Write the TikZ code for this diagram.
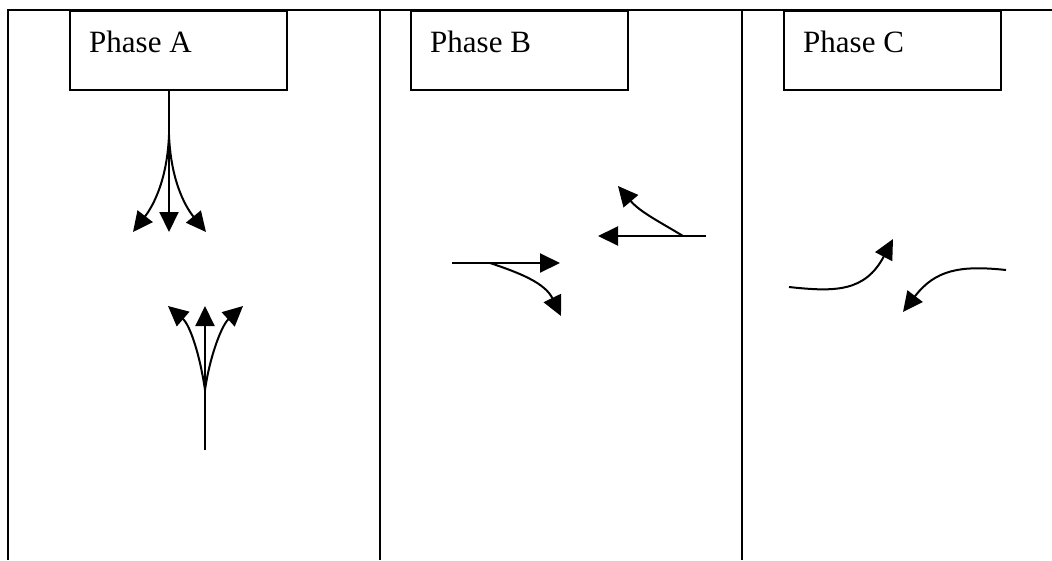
\documentclass[tikz,border=0pt]{standalone}
\usepackage{fontspec}
\setmainfont{Liberation Serif}
\usetikzlibrary{arrows.meta}
\begin{document}
\begin{tikzpicture}[x=1pt,y=-1pt,
  frame/.style={line width=1.6pt},
  phasebox/.style={draw,line width=1.6pt,minimum width=217pt,minimum height=79pt,
    anchor=north west,inner sep=0pt},
  phasetext/.style={anchor=base west,font=\fontsize{31}{36}\selectfont,inner sep=0pt},
  flow/.style={line width=2pt,-{Triangle[length=20pt,width=19pt]}},
  bare/.style={line width=2pt}]
  \useasboundingbox (0,0) rectangle (1052,560);
  % table frame
  \draw[frame] (8,560) -- (8,10) -- (1060,10);
  \draw[frame] (380,10) -- (380,560);
  \draw[frame] (742,10) -- (742,560);
  % phase headers
  \node[phasebox] (boxA) at (69,10) {};
  \node[phasebox] (boxB) at (410,10) {};
  \node[phasebox] (boxC) at (783,10) {};
  \node[phasetext] (labA) at ([shift={(20,42)}]boxA.north west) {Phase A};
  \node[phasetext] (labB) at ([shift={(20,42)}]boxB.north west) {Phase B};
  \node[phasetext] (labC) at ([shift={(20,42)}]boxC.north west) {Phase C};
  % Phase A: southbound three-way movement
  \coordinate (a0) at (169,89);
  \coordinate (af) at (169,135);
  \coordinate (aL) at (133,232);
  \coordinate (aM) at (169,232);
  \coordinate (aR) at (206,232);
  \draw[bare] (a0) -- (af);
  \draw[flow] (af) -- (aM);
  \draw[flow] (af) .. controls (167,185) and (150,210) .. (aL);
  \draw[flow] (af) .. controls (171,185) and (188,210) .. (aR);
  % Phase A: northbound three-way movement
  \coordinate (b0) at (205,450);
  \coordinate (bf) at (205,390);
  \coordinate (bL) at (168,306);
  \coordinate (bM) at (205,306);
  \coordinate (bR) at (243,306);
  \draw[bare] (b0) -- (bf);
  \draw[flow] (bf) -- (bM);
  \draw[flow] (bf) .. controls (200,355) and (190,325) .. (bL);
  \draw[flow] (bf) .. controls (210,355) and (222,325) .. (bR);
  % Phase B: eastbound through and right
  \coordinate (e0) at (452,263);
  \coordinate (ef) at (490,263);
  \coordinate (eT) at (560,263);
  \coordinate (eR) at (561,316);
  \draw[flow] (e0) -- (eT);
  \draw[flow] (ef) .. controls (520,273) and (545,283) .. (eR);
  % Phase B: westbound through and right
  \coordinate (w0) at (706,236);
  \coordinate (wf) at (683,236);
  \coordinate (wT) at (598,236);
  \coordinate (wR) at (618,186);
  \draw[flow] (w0) -- (wT);
  \draw[flow] (wf) .. controls (660,222) and (640,212) .. (wR);
  % Phase C: left turns
  \coordinate (c1s) at (789,287);
  \coordinate (c1e) at (893,239);
  \coordinate (c2s) at (1006,270);
  \coordinate (c2e) at (903,312);
  \draw[flow] (c1s) .. controls (835,292) and (865,292) .. (c1e);
  \draw[flow] (c2s) .. controls (960,265) and (935,270) .. (c2e);
\end{tikzpicture}
\end{document}
